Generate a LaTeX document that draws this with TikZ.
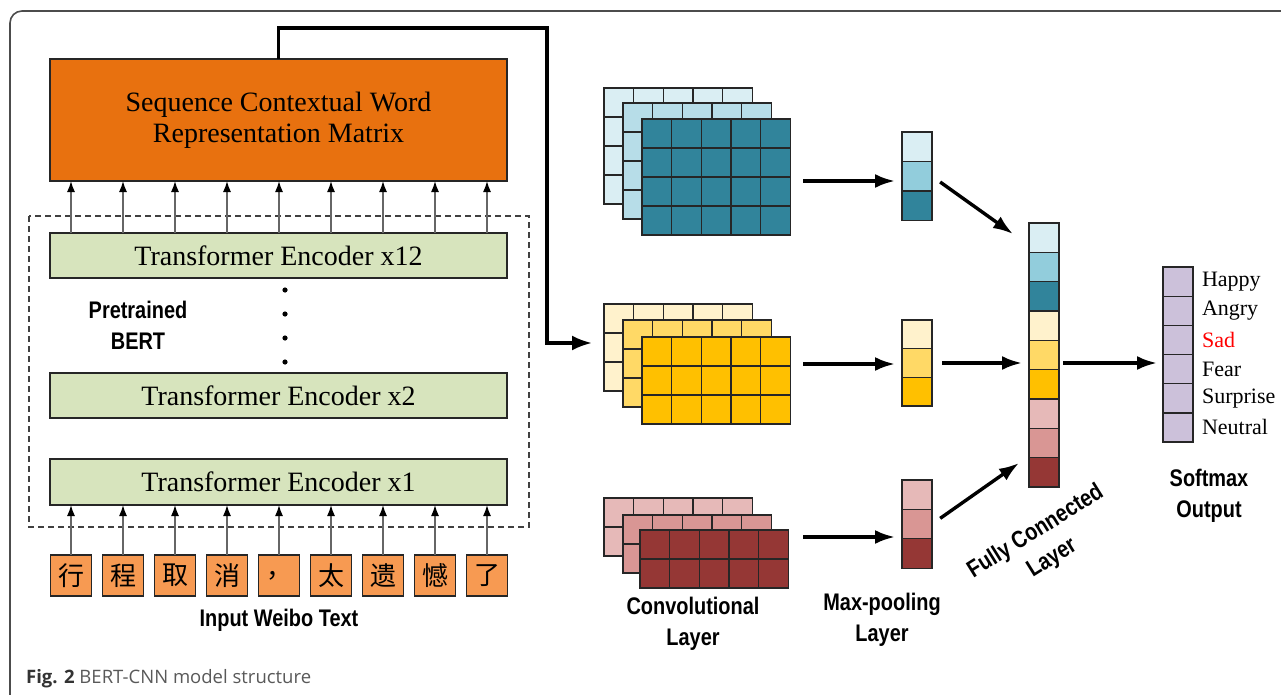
\documentclass[tikz,border=0pt]{standalone}
\usepackage{fontspec}
\setmainfont{Liberation Serif}
\newfontfamily\cjk{Noto Sans CJK SC}
\newfontfamily\labfont{Liberation Sans}[FakeStretch=0.83]
\newfontfamily\capfont{Open Sans}
\usetikzlibrary{arrows.meta,positioning}

\definecolor{matorange}{HTML}{E8710F}
\definecolor{charorange}{HTML}{F79A52}
\definecolor{encgreen}{HTML}{D7E4BD}
\definecolor{softpurple}{HTML}{CCC1DA}
\definecolor{blA}{HTML}{DAEEF3}
\definecolor{blB}{HTML}{92CDDC}
\definecolor{blM}{HTML}{B7DDE8}
\definecolor{blC}{HTML}{31849B}
\definecolor{yeA}{HTML}{FFF2CC}
\definecolor{yeB}{HTML}{FFD966}
\definecolor{yeC}{HTML}{FFC000}
\definecolor{reA}{HTML}{E6B9B8}
\definecolor{reB}{HTML}{D99694}
\definecolor{reC}{HTML}{953735}

\begin{document}
\begin{tikzpicture}[x=1pt,y=-1pt,
  box/.style={draw=black!85, line width=1.2pt, inner sep=0pt, outer sep=0pt},
  cell/.style={draw=black!85, line width=1.3pt},
  poolcell/.style={draw=black!85, line width=1.3pt, minimum width=30pt,
    minimum height=29.4pt, inner sep=0pt, outer sep=0pt},
  uparrow/.style={draw=black!60, line width=1.4pt,
    -{Latex[length=11pt,width=8pt,color=black]}},
  bigarrow/.style={line width=3.4pt, -{Latex[length=20pt,width=14pt]}},
  lab/.style={font=\labfont\bfseries\fontsize{24}{31}\selectfont, align=center},
  serif/.style={font=\fontsize{28}{31}\selectfont, align=center},
  emo/.style={font=\fontsize{22}{26}\selectfont, inner sep=3.3pt}]
\useasboundingbox (0,0) rectangle (1281,695);
\draw[line width=1.6pt, black!70, rounded corners=12pt] (1290,11) -- (10,11) -- (10,700);

% feature map: x, y, rows, colour
\newcommand\fmap[4]{
\draw[cell, fill=#4] (#1,#2) rectangle ++(148.5,{#3*29});
\foreach \i in {1,...,4}
  \draw[cell] ({#1+\i*29.7},#2) -- ++(0,{#3*29});
\foreach \j in {1,...,#3}
  \draw[cell] (#1,{#2+\j*29}) -- ++(148.5,0);
}

% BERT part
\node[box, serif, fill=matorange, minimum width=457pt, minimum height=122pt] (mat) at (278.5,120) {Sequence Contextual Word\\Representation Matrix};
\draw[dashed, black!75, line width=1.1pt, dash pattern=on 6pt off 4pt] (29,216) rectangle (529,527);
\node[box, serif, fill=encgreen, minimum width=457pt, minimum height=45pt] (enc12) at (278.5,255.5) {Transformer Encoder x12};
\node[box, serif, fill=encgreen, minimum width=457pt, minimum height=45pt] (enc2) at (278.5,395.5) {Transformer Encoder x2};
\node[box, serif, fill=encgreen, minimum width=457pt, minimum height=46pt] (enc1) at (278.5,482) {Transformer Encoder x1};
\foreach \y in {290,314,338,362}
  \fill (285,\y) circle (2.6pt);
\node[lab] (bert) at (138,325) {Pretrained\\BERT};

\foreach \ch [count=\i] in {行,程,取,消,{，},太,遗,憾,了}
  \node[box, fill=charorange, minimum size=41pt, font=\cjk\fontsize{26}{26}\selectfont] (c\i) at ({71+(\i-1)*52},575.5) {\ch};
\foreach \i in {1,...,9}{
  \draw[uparrow] (c\i.north) -- (c\i.north |- enc1.south);
  \draw[uparrow] (c\i.north |- enc12.north) -- (c\i.north |- mat.south);
}
\node[lab] (input) at (279,620) {Input Weibo Text};

% CNN part
\fmap{604}{88}{4}{blA}
\fmap{623}{103}{4}{blM}
\fmap{642}{119}{4}{blC}
\fmap{604}{304}{3}{yeA}
\fmap{623}{320}{3}{yeB}
\fmap{642}{337}{3}{yeC}
\fmap{604}{498}{2}{reA}
\fmap{623}{515}{2}{reB}
\fmap{640}{530}{2}{reC}
\coordinate (ymapin) at (592,343);
\draw[line width=3.2pt, -{Latex[length=20pt,width=15pt]}] (mat.north) |- (547,28) |- (ymapin);

\node[poolcell, fill=blA] (bp1) at (917,146.8) {};
\node[poolcell, fill=blB, below=0pt of bp1] (bp2) {};
\node[poolcell, fill=blC, below=0pt of bp2] (bp3) {};
\node[poolcell, fill=yeA, minimum height=28.7pt] (yp1) at (917,334.3) {};
\node[poolcell, fill=yeB, minimum height=28.7pt, below=0pt of yp1] (yp2) {};
\node[poolcell, fill=yeC, minimum height=28.7pt, below=0pt of yp2] (yp3) {};
\node[poolcell, fill=reA] (rp1) at (917,494.7) {};
\node[poolcell, fill=reB, below=0pt of rp1] (rp2) {};
\node[poolcell, fill=reC, below=0pt of rp2] (rp3) {};

\coordinate (bmap) at (803,181);
\coordinate (ymap) at (803,364);
\coordinate (rmap) at (803,537);
\draw[bigarrow, shorten >=7pt] (bmap) -- (bmap -| bp2.west);
\draw[bigarrow, shorten >=7pt] (ymap) -- (ymap -| yp2.west);
\draw[bigarrow, shorten >=7pt] (rmap) -- (rmap -| rp2.west);

\foreach \c [count=\i] in {blA,blB,blC,yeA,yeB,yeC,reA,reB,reC}
  \node[poolcell, fill=\c, minimum height=29.33pt] (fc\i) at (1044,{237.67+(\i-1)*29.33}) {};
\foreach \e/\c [count=\i] in {Happy/black,Angry/black,Sad/red,Fear/black,Surprise/black,Neutral/black}{
  \node[poolcell, fill=softpurple, minimum height=29.17pt] (soft\i) at (1178,{281.6+(\i-1)*29.17}) {};
  \node[emo, text=\c, right=5.5pt of soft\i] {\e};
}

\coordinate (fcin1) at (1013,234);
\coordinate (fcin3) at (1019,463);
\draw[bigarrow, shorten <=10pt] (bp2.east) -- (fcin1);
\draw[bigarrow, shorten <=10pt, shorten >=7pt] (yp2.east) -- (yp2.east -| fc5.west);
\draw[bigarrow, shorten <=10pt] (rp2.east) -- (fcin3);
\draw[bigarrow, shorten <=4pt, shorten >=6pt] (fc5.east |- yp2.east) -- (soft4.west |- yp2.east);

\node[lab] (convlab) at (693,624) {Convolutional\\Layer};
\node[lab] (poollab) at (882,620) {Max-pooling\\Layer};
\node[lab, rotate=32] (fclab) at (1044,545) {Fully Connected\\Layer};
\node[lab] (softlab) at (1209,496) {Softmax\\Output};

\node[anchor=base west, inner sep=0pt, font=\capfont\fontsize{18.5}{20}\selectfont, text=black!65] (cap) at (26,683) {{\bfseries\color{black!80}Fig. 2} BERT-CNN model structure};
\end{tikzpicture}
\end{document}
